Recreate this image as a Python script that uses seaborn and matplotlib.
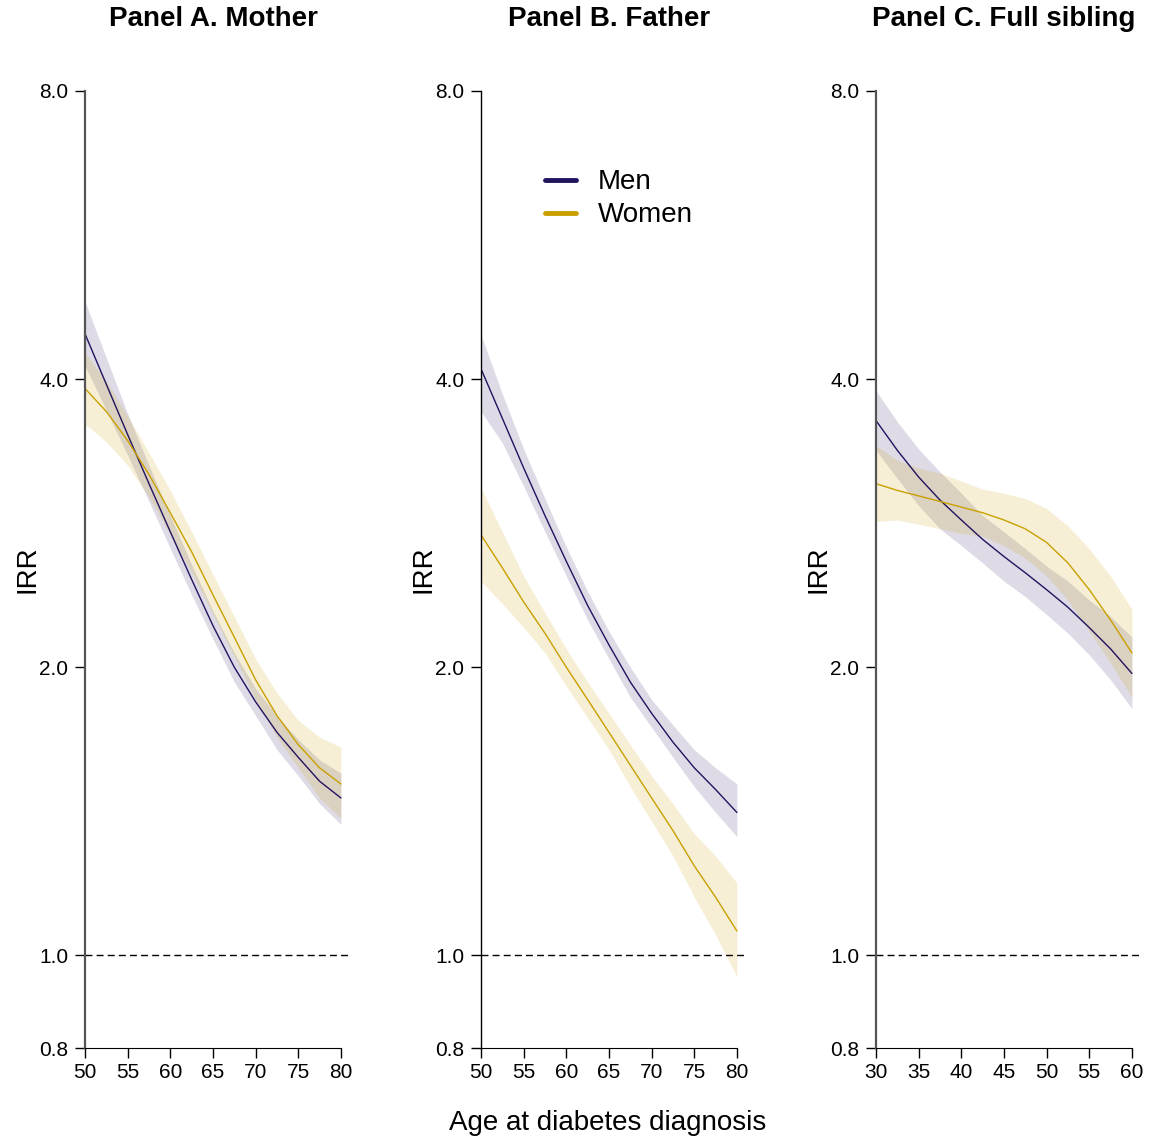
import numpy as np
import pandas as pd
import seaborn as sns
import matplotlib.pyplot as plt
from matplotlib.ticker import FixedLocator, NullLocator

age_parent = [50, 52.5, 55, 57.5, 60, 62.5, 65, 67.5, 70, 72.5, 75, 77.5, 80]
age_sib = [30, 32.5, 35, 37.5, 40, 42.5, 45, 47.5, 50, 52.5, 55, 57.5, 60]

# Panel A. Mother
a_men = [4.46, 3.95, 3.50, 3.11, 2.77, 2.47, 2.21, 2.00, 1.84, 1.71, 1.61, 1.52, 1.46]
a_men_lo = [4.13, 3.71, 3.33, 2.98, 2.66, 2.38, 2.14, 1.93, 1.78, 1.64, 1.54, 1.44, 1.37]
a_men_hi = [4.82, 4.21, 3.68, 3.25, 2.88, 2.56, 2.29, 2.07, 1.90, 1.78, 1.68, 1.60, 1.55]
a_wom = [3.91, 3.70, 3.45, 3.18, 2.90, 2.64, 2.38, 2.15, 1.94, 1.78, 1.66, 1.57, 1.51]
a_wom_lo = [3.59, 3.44, 3.25, 3.01, 2.75, 2.51, 2.27, 2.05, 1.85, 1.69, 1.57, 1.46, 1.39]
a_wom_hi = [4.26, 3.98, 3.66, 3.35, 3.06, 2.77, 2.50, 2.26, 2.04, 1.88, 1.76, 1.69, 1.65]

# Panel B. Father
b_men = [4.10, 3.64, 3.23, 2.88, 2.58, 2.32, 2.11, 1.93, 1.79, 1.67, 1.57, 1.49, 1.41]
b_men_lo = [3.70, 3.43, 3.09, 2.77, 2.49, 2.24, 2.04, 1.86, 1.73, 1.61, 1.50, 1.41, 1.33]
b_men_hi = [4.45, 3.86, 3.38, 3.00, 2.67, 2.40, 2.18, 2.00, 1.85, 1.74, 1.64, 1.57, 1.51]
b_wom = [2.75, 2.54, 2.34, 2.17, 2.00, 1.85, 1.71, 1.58, 1.46, 1.35, 1.24, 1.15, 1.06]
b_wom_lo = [2.46, 2.33, 2.20, 2.07, 1.91, 1.77, 1.64, 1.50, 1.38, 1.27, 1.15, 1.05, 0.95]
b_wom_hi = [3.08, 2.77, 2.49, 2.28, 2.09, 1.93, 1.79, 1.66, 1.54, 1.44, 1.34, 1.27, 1.19]

# Panel C. Full sibling
c_men = [3.62, 3.37, 3.16, 2.99, 2.85, 2.72, 2.61, 2.51, 2.41, 2.31, 2.20, 2.09, 1.97]
c_men_lo = [3.37, 3.15, 2.95, 2.79, 2.68, 2.57, 2.46, 2.37, 2.27, 2.17, 2.06, 1.94, 1.81]
c_men_hi = [3.89, 3.61, 3.38, 3.20, 3.04, 2.88, 2.77, 2.66, 2.55, 2.46, 2.35, 2.26, 2.15]
c_wom = [3.11, 3.06, 3.02, 2.98, 2.94, 2.90, 2.85, 2.79, 2.70, 2.57, 2.41, 2.24, 2.07]
c_wom_lo = [2.84, 2.85, 2.82, 2.79, 2.76, 2.74, 2.68, 2.60, 2.49, 2.35, 2.18, 2.02, 1.86]
c_wom_hi = [3.41, 3.29, 3.23, 3.19, 3.13, 3.07, 3.04, 3.00, 2.93, 2.81, 2.66, 2.49, 2.30]

titles = ["Panel A. Mother", "Panel B. Father", "Panel C. Full sibling"]
yticks = [0.8, 1.0, 2.0, 4.0, 8.0]
ytick_labels = ["0.8", "1.0", "2.0", "4.0", "8.0"]

men_col = "#22135f"
wom_col = "#c9a000"

sns.set_style("ticks")
plt.rcParams['font.family'] = ['Liberation Sans', 'DejaVu Sans']
plt.rcParams['text.color'] = 'black'
plt.rcParams['axes.labelcolor'] = 'black'
plt.rcParams['xtick.color'] = 'black'
plt.rcParams['ytick.color'] = 'black'

fig = plt.figure(figsize=(11.49, 11.41), dpi=100)

panels = [
    (age_parent, a_men, a_men_lo, a_men_hi, a_wom, a_wom_lo, a_wom_hi, 85),
    (age_parent, b_men, b_men_lo, b_men_hi, b_wom, b_wom_lo, b_wom_hi, 481),
    (age_sib, c_men, c_men_lo, c_men_hi, c_wom, c_wom_lo, c_wom_hi, 876),
]

W, H = 1149, 1141
for i, (age, m, mlo, mhi, w, wlo, whi, left_px) in enumerate(panels):
    ax = fig.add_axes([left_px / W, 1 - 1048 / H, 267 / W, (1048 - 91) / H])
    df = pd.DataFrame({
        "age": list(age) * 2,
        "irr": list(m) + list(w),
        "sex": ["Men"] * len(age) + ["Women"] * len(age),
    })
    ax.fill_between(age, mlo, mhi, color=men_col, alpha=0.15, lw=0)
    ax.fill_between(age, wlo, whi, color=wom_col, alpha=0.16, lw=0)
    sns.lineplot(data=df, x="age", y="irr", hue="sex",
                 palette={"Men": men_col, "Women": wom_col},
                 lw=1.0, ax=ax, legend=(i == 1))
    ax.set_yscale("log")
    ax.set_ylim(0.8, 8.0)
    x0 = age[0]
    ax.set_xlim(x0, x0 + 31.3)
    ax.axhline(1.0, color="black", lw=1.0, ls=(0, (5, 3)))

    ax.yaxis.set_major_locator(FixedLocator(yticks))
    ax.yaxis.set_minor_locator(NullLocator())
    ax.set_yticklabels(ytick_labels)
    ax.set_xticks(np.arange(x0, x0 + 31, 5))
    ax.tick_params(axis="both", labelsize=15, length=7, width=1.0)
    ax.tick_params(axis="y", pad=5)
    ax.tick_params(axis="x", pad=4)

    sns.despine(ax=ax)
    ax.spines["left"].set_bounds(0.8, 8.0)
    ax.spines["bottom"].set_bounds(x0, x0 + 30)
    ax.spines["bottom"].set_color("black")
    spine_col = "black" if i == 1 else "#555555"
    ax.spines["left"].set_color(spine_col)
    ax.spines["left"].set_linewidth(1.0 if i == 1 else 1.6)

    ax.set_xlabel("")
    ax.set_ylabel("IRR", fontsize=20)
    ax.yaxis.set_label_coords(-0.165, 0.5)
    fig.text((left_px + 128) / W, 1 - 19 / H, titles[i],
             ha="center", va="center", fontsize=20, fontweight="bold")

    if i == 1:
        leg = ax.legend(loc="upper left", bbox_to_anchor=(0.24, 0.918),
                        frameon=False, fontsize=20, handlelength=1.1,
                        handletextpad=0.8, labelspacing=0.25,
                        borderpad=0, borderaxespad=0)
        for ln in leg.get_lines():
            ln.set_linewidth(3.5)
            ln.set_solid_capstyle("round")

fig.text(608 / W, 1 - 1123 / H, "Age at diabetes diagnosis",
         ha="center", va="center", fontsize=20)

plt.savefig("out.png", dpi=100)
